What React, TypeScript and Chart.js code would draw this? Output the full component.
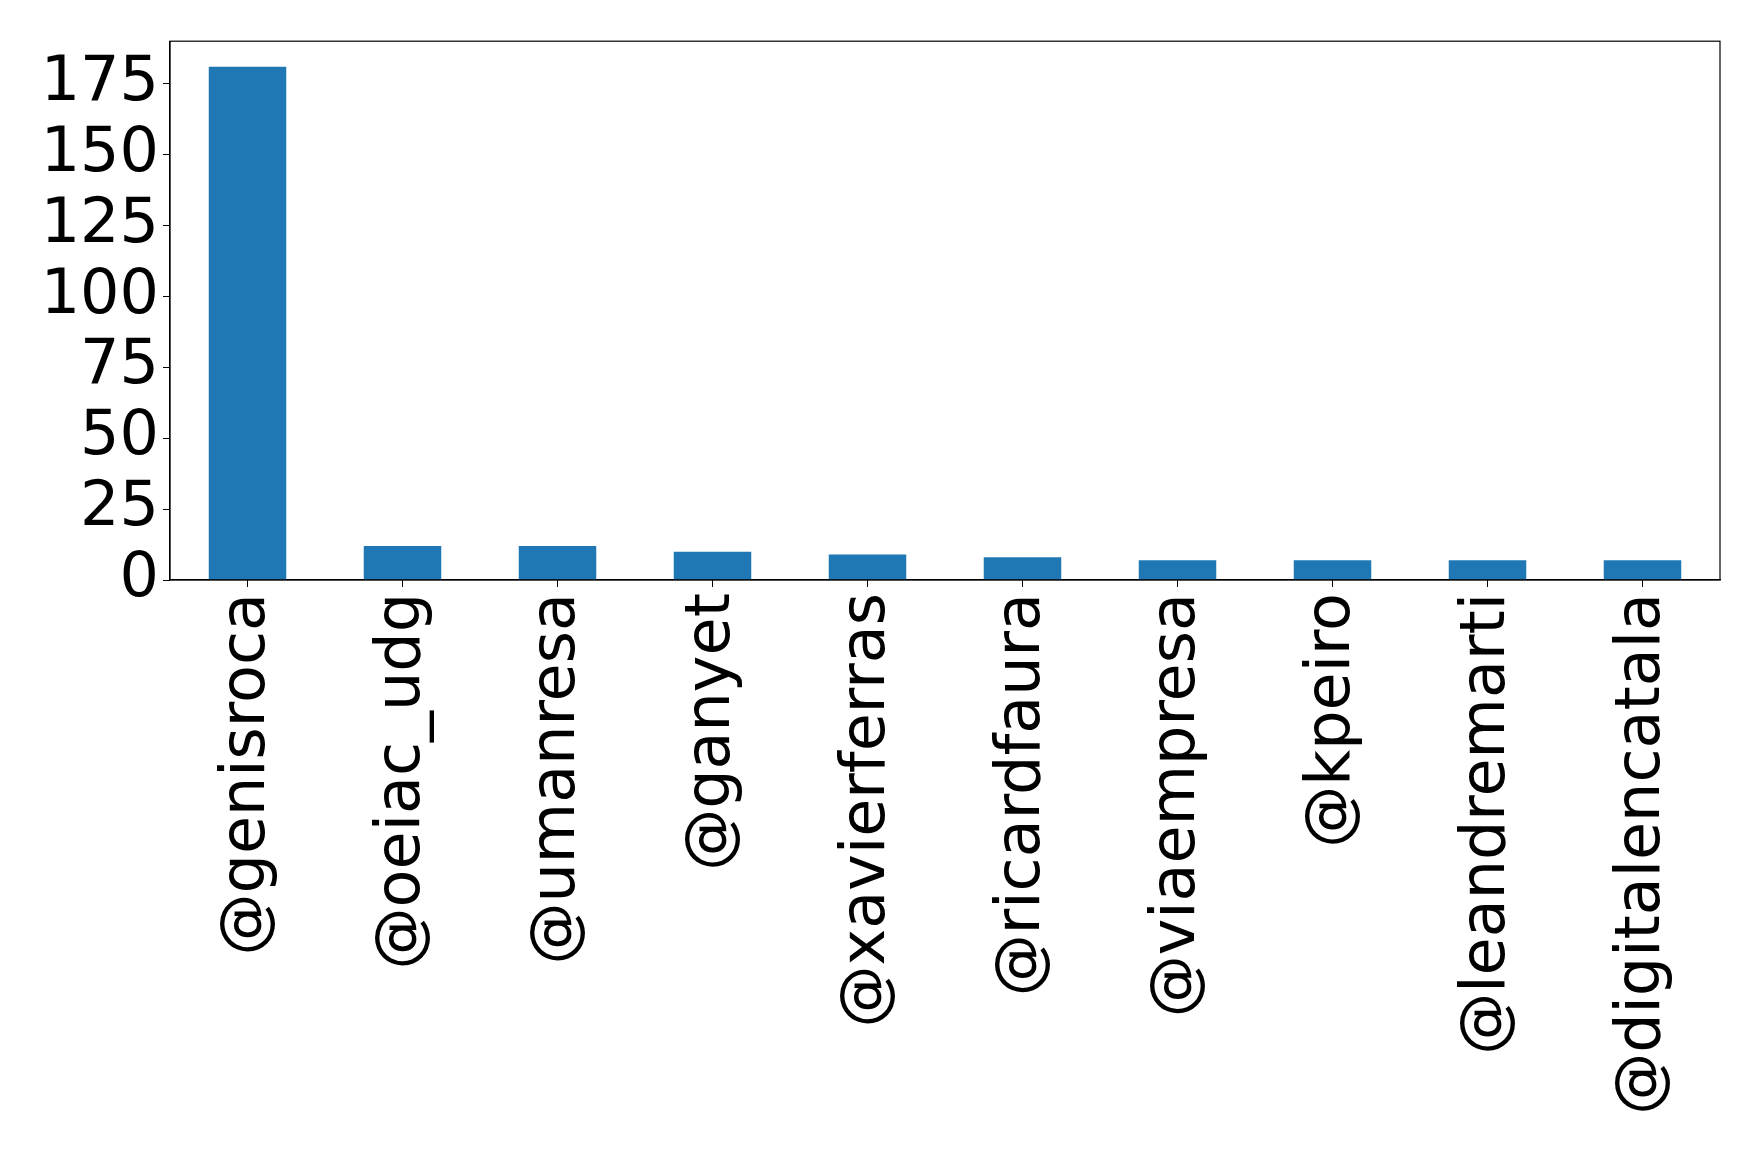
import { useEffect, useRef } from "react";
import { Chart, registerables } from "chart.js";

Chart.register(...registerables);

const accounts = [
  "@genisroca",
  "@oeiac_udg",
  "@umanresa",
  "@ganyet",
  "@xavierferras",
  "@ricardfaura",
  "@viaempresa",
  "@kpeiro",
  "@leandremarti",
  "@digitalencatala",
];
const mentions = [181, 12, 12, 10, 9, 8, 7, 7, 7, 7];
const yTicks = [0, 25, 50, 75, 100, 125, 150, 175];

const FONT = "'DejaVu Sans', sans-serif";

// full box around the plot area, like matplotlib's spines
const frame = {
  id: "frame",
  afterDraw(chart: Chart) {
    const { ctx, chartArea } = chart;
    ctx.save();
    ctx.strokeStyle = "#000";
    ctx.lineWidth = 1.2;
    ctx.strokeRect(chartArea.left, chartArea.top, chartArea.right - chartArea.left, chartArea.bottom - chartArea.top);
    ctx.restore();
  },
};

export default function App() {
  const canvasRef = useRef<HTMLCanvasElement | null>(null);

  useEffect(() => {
    if (!canvasRef.current) return;
    const chart = new Chart(canvasRef.current, {
      type: "bar",
      data: {
        labels: accounts,
        datasets: [
          {
            data: mentions,
            backgroundColor: "#1f77b4",
            categoryPercentage: 1,
            barPercentage: 0.5,
          },
        ],
      },
      options: {
        animation: false,
        responsive: false,
        layout: { padding: { top: 40, right: 38, left: 0, bottom: 0 } },
        plugins: { legend: { display: false }, tooltip: { enabled: false } },
        scales: {
          x: {
            offset: true,
            grid: { offset: false, drawOnChartArea: false, tickLength: 7, tickColor: "#000" },
            border: { color: "#000", width: 1.2 },
            ticks: {
              color: "#000",
              font: { family: FONT, size: 62 },
              minRotation: 90,
              maxRotation: 90,
              autoSkip: false,
              padding: 6,
            },
            afterFit: (scale: any) => {
              scale.height = 574;
            },
          },
          y: {
            min: 0,
            max: 190,
            grid: { drawOnChartArea: false, tickLength: 7, tickColor: "#000" },
            border: { color: "#000", width: 1.2 },
            ticks: {
              color: "#000",
              font: { family: FONT, size: 62 },
              padding: 4,
              stepSize: 25,
              autoSkip: false,
            },
            afterBuildTicks: (scale: any) => {
              scale.ticks = yTicks.map((v) => ({ value: v }));
            },
            afterFit: (scale: any) => {
              scale.width = 170;
            },
          },
        },
      },
      plugins: [frame],
    });
    return () => chart.destroy();
  }, []);

  return (
    <div style={{ position: "fixed", left: 0, top: 0, width: 1758, height: 1154, background: "#fff" }}>
      <canvas ref={canvasRef} width={1758} height={1154} />
    </div>
  );
}
